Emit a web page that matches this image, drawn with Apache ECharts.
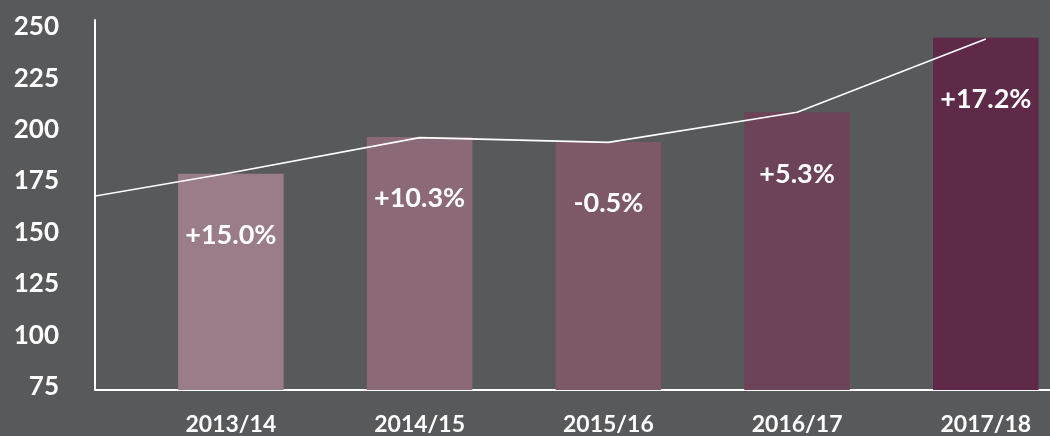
<!DOCTYPE html>
<html>
<head>
<meta charset="utf-8">
<script src="https://cdn.jsdelivr.net/npm/echarts@6/dist/echarts.min.js"></script>
<style>
  html, body { margin: 0; padding: 0; background: #58595b; }
  #chart { width: 1050px; height: 436px; }
</style>
</head>
<body>
<div id="chart"></div>
<script>
// ---- data ----
const categories = ['2013/14', '2014/15', '2015/16', '2016/17', '2017/18'];
const barValues = [178.5, 196.4, 194.0, 208.4, 244.6];
const growthLabels = ['+15.0%', '+10.3%', '-0.5%', '+5.3%', '+17.2%'];
// trend line: first value is the previous year (2012/13), clipped by the axis
const trendValues = [163.3, 179.0, 196.1, 193.8, 208.4, 244.0];
const yTicks = [75, 100, 125, 150, 175, 200, 225, 250];

// ---- styles ----
const barColors = ['#9b7d8a', '#8b6979', '#7d5869', '#6d4359', '#5e2a48'];
const FONT = 'Lato';

const chart = echarts.init(document.getElementById('chart'), null, { renderer: 'canvas' });

const option = {
  backgroundColor: '#58595b',
  animation: false,
  grid: { left: 95, right: 0, top: 20, bottom: 43, containLabel: false },
  xAxis: {
    type: 'value',
    min: -0.72,
    max: 4.34,
    axisLine: { show: true, onZero: false, lineStyle: { color: '#ffffff', width: 2 } },
    axisTick: { show: false },
    splitLine: { show: false },
    axisLabel: {
      customValues: categories.map((c, i) => i),
      formatter: v => categories[Math.round(v)] || '',
      color: '#ffffff',
      fontFamily: FONT,
      fontWeight: 'bold',
      fontSize: 23,
      margin: 23
    }
  },
  yAxis: {
    type: 'value',
    min: 73.41,
    max: 253.28,
    axisLine: { show: true, onZero: false, lineStyle: { color: '#ffffff', width: 2 } },
    axisTick: { show: false },
    splitLine: { show: false },
    axisLabel: {
      customValues: yTicks,
      color: '#ffffff',
      fontFamily: FONT,
      fontWeight: 'bold',
      fontSize: 26,
      margin: 36
    }
  },
  series: [
    {
      type: 'bar',
      barWidth: 105.5,
      data: barValues.map((v, i) => ({
        value: [i, v],
        itemStyle: { color: barColors[i] }
      })),
      label: {
        show: true,
        position: 'insideTop',
        distance: 48,
        formatter: p => growthLabels[p.dataIndex],
        color: '#ffffff',
        fontFamily: FONT,
        fontWeight: 'bold',
        fontSize: 27
      },
      z: 2
    },
    {
      type: 'line',
      data: trendValues.map((v, i) => [i - 1, v]),
      symbol: 'none',
      clip: true,
      lineStyle: { color: '#ffffff', width: 1.6 },
      z: 3
    }
  ]
};

chart.setOption(option);
</script>
</body>
</html>
